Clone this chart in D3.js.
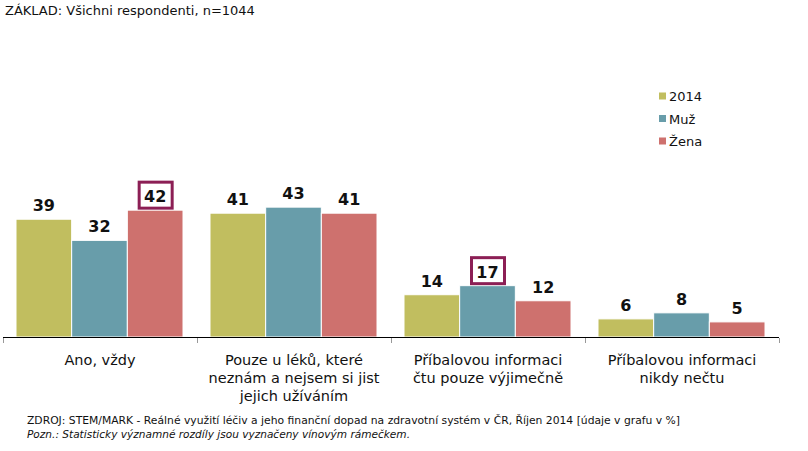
<!DOCTYPE html>
<html><head><meta charset="utf-8">
<script src="https://cdn.jsdelivr.net/npm/d3@7"></script>
<style>body{margin:0;background:#fff}svg{display:block}</style>
</head><body>
<svg id="c" width="808" height="451"></svg>
<script>
const categories = [
  ["Ano, vždy"],
  ["Pouze u léků, které", "neznám a nejsem si jist", "jejich užíváním"],
  ["Příbalovou informaci", "čtu pouze výjimečně"],
  ["Příbalovou informaci", "nikdy nečtu"]
];
const seriesNames = ["2014", "Muž", "Žena"];
const values2014 = [39, 41, 14, 6];
const valuesMuz = [32, 43, 17, 8];
const valuesZena = [42, 41, 12, 5];
const highlighted = [[0, 2], [2, 1]]; // [category, series] with wine frame
const colors = ["#C1BE5F", "#689DAA", "#CE716E"];
const headerText = "ZÁKLAD: Všichni respondenti, n=1044";
const sourceText = "ZDROJ: STEM/MARK - Reálné využití léčiv a jeho finanční dopad na zdravotní systém v ČR, Říjen 2014 [údaje v grafu v %]";
const noteText = "Pozn.: Statisticky významné rozdíly jsou vyznačeny vínovým rámečkem.";

const seriesValues = [values2014, valuesMuz, valuesZena];
const svg = d3.select("#c");
const font = "'DejaVu Sans', Verdana, sans-serif";
const baseY = 337;

const x0 = d3.scaleBand().domain(d3.range(categories.length)).range([3, 779]);
const x1 = d3.scaleBand().domain(d3.range(seriesNames.length)).range([13, 180]);
const y = d3.scaleLinear().domain([0, 50]).range([baseY, baseY - 151]);

svg.append("text").attr("x", 5).attr("y", 15).attr("font-family", font)
  .attr("font-size", 13).attr("fill", "#111").text(headerText);

// bars
const groups = svg.selectAll("g.cat").data(categories).join("g").attr("class", "cat")
  .attr("transform", (d, i) => `translate(${x0(i)},0)`);
groups.each(function(cat, ci) {
  const g = d3.select(this);
  seriesNames.forEach((s, si) => {
    const v = seriesValues[si][ci];
    g.append("rect").attr("x", x1(si)).attr("y", y(v))
      .attr("width", x1.bandwidth()).attr("height", baseY - y(v))
      .attr("fill", colors[si]).attr("stroke", "#fff").attr("stroke-width", 1);
    const cx = x1(si) + x1.bandwidth() / 2;
    const ty = y(v) - 8;
    if (highlighted.some(h => h[0] === ci && h[1] === si)) {
      g.append("rect").attr("x", cx - 16).attr("y", ty - 20)
        .attr("width", 33).attr("height", 26)
        .attr("fill", "none").attr("stroke", "#8C1F55").attr("stroke-width", 3);
    }
    g.append("text").attr("x", cx).attr("y", ty).attr("text-anchor", "middle")
      .attr("font-family", font).attr("font-weight", "bold").attr("font-size", 16)
      .attr("fill", "#111").text(v);
  });
  const t = g.append("text").attr("text-anchor", "middle").attr("font-family", font)
    .attr("font-size", 14.5).attr("fill", "#111");
  cat.forEach((line, li) => {
    t.append("tspan").attr("x", x0.bandwidth() / 2).attr("y", 365 + li * 18).text(line);
  });
});

// axis
const axis = svg.append("g");
axis.append("line").attr("x1", 3).attr("x2", 779).attr("y1", baseY + 0.5).attr("y2", baseY + 0.5)
  .attr("stroke", "#000").attr("stroke-width", 1);
const ticks = d3.range(categories.length + 1).map(i => i < categories.length ? x0(i) : x0.range()[1]);
axis.selectAll("line.tick").data(ticks).join("line").attr("class", "tick")
  .attr("x1", d => Math.round(d) + 0.5).attr("x2", d => Math.round(d) + 0.5)
  .attr("y1", baseY + 1).attr("y2", baseY + 6).attr("stroke", "#999");

// legend
const leg = svg.append("g");
seriesNames.forEach((s, i) => {
  const ly = 96 + i * 22.5;
  leg.append("rect").attr("x", 659).attr("y", ly - 3.5).attr("width", 7).attr("height", 7).attr("fill", colors[i]);
  leg.append("text").attr("x", 669).attr("y", ly + 5).attr("font-family", font)
    .attr("font-size", 13).attr("fill", "#111").text(s);
});

// footer
svg.append("text").attr("x", 27).attr("y", 424).attr("font-family", font)
  .attr("font-size", 11).attr("fill", "#111")
  .attr("textLength", 653).attr("lengthAdjust", "spacingAndGlyphs").text(sourceText);
svg.append("text").attr("x", 27).attr("y", 438).attr("font-family", font)
  .attr("font-size", 11).attr("font-style", "italic").attr("fill", "#111")
  .attr("textLength", 383).attr("lengthAdjust", "spacingAndGlyphs").text(noteText);
</script>
</body></html>
